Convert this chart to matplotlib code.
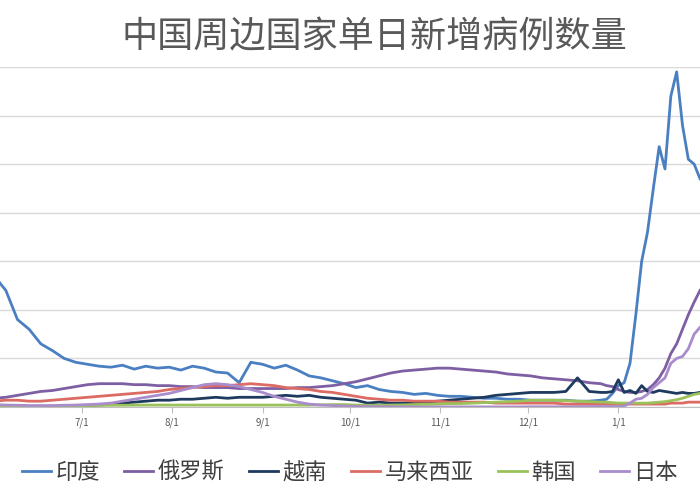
import matplotlib
matplotlib.use("Agg")
import matplotlib.pyplot as plt
import matplotlib.dates as mdates
import pandas as pd

plt.rcParams['font.family'] = ['Noto Sans CJK SC', 'DejaVu Sans']

series_names = ["印度", "俄罗斯", "越南", "马来西亚", "韩国", "日本"]
colors = ["#4A7FC1", "#7E5FA3", "#1F3A5F", "#DB6B63", "#9BC25A", "#A98CCB"]

# values in thousands; early part every 4 days from 2021-06-01 (53 pts), late part every 2 days from 2021-12-28 (17 pts)
india_early = [135, 120, 90, 80, 65, 58, 50, 46, 44, 42,
               41, 43, 39, 42, 40, 41, 38, 42, 40, 36,
               35, 25, 46, 44, 40, 43, 38, 32, 30, 27,
               24, 20, 22, 18, 16, 15, 13, 14, 12, 11,
               11, 10, 9, 9, 8, 8, 7, 7, 7, 7,
               6, 6, 7]
india_late = [8, 14, 22, 25, 45, 95, 150, 180, 225, 268, 245, 320, 345, 290, 255, 250, 235]

russia_early = [9, 10, 12, 14, 16, 17, 19, 21, 23, 24,
                24, 24, 23, 23, 22, 22, 21, 21, 20, 20,
                20, 19, 19, 19, 19, 19, 20, 20, 21, 22,
                24, 26, 29, 32, 35, 37, 38, 39, 40, 40,
                39, 38, 37, 36, 34, 33, 32, 30, 29, 28,
                27, 25, 24]
russia_late = [22, 21, 18, 16, 15, 15, 16, 18, 23, 30, 40, 55, 65, 80, 95, 108, 120]

vietnam_early = [0.2, 0.2, 0.3, 0.4, 0.5, 0.7, 0.9, 1.2, 1.5, 2,
                 3, 4, 5, 6, 7, 7, 8, 8, 9, 10,
                 9, 10, 10, 10, 11, 12, 11, 12, 10, 9,
                 8, 7, 4, 5, 4, 4, 4, 5, 6, 7,
                 8, 9, 10, 12, 13, 14, 15, 15, 15, 16,
                 30, 16, 15]
vietnam_late = [15, 16, 28, 15, 17, 14, 22, 16, 15, 17, 16, 15, 14, 15, 14, 14, 15]

malaysia_early = [6, 7, 7, 6, 6, 7, 8, 9, 10, 11,
                  12, 13, 14, 15, 16, 18, 19, 20, 21, 22,
                  22, 23, 24, 23, 22, 20, 19, 18, 16, 15,
                  13, 11, 9, 8, 7, 7, 6, 6, 6, 5,
                  5, 5, 5, 4, 4, 4, 4, 4, 4, 3,
                  3, 3, 3]
malaysia_late = [3, 3, 3, 3, 3, 3, 3, 3, 3, 3, 3, 4, 4, 4, 5, 5, 5]

korea_early = [0.6, 0.6, 0.6, 0.6, 0.6, 0.6, 0.8, 1.2, 1.5, 1.6,
               1.8, 1.8, 1.9, 2.0, 2.0, 2.0, 2.0, 2.0, 2.0, 2.0,
               2.0, 2.0, 2.0, 2.0, 2.0, 2.0, 2.0, 2.0, 2.2, 2.5,
               2.5, 2.0, 1.8, 1.8, 2.0, 2.2, 2.5, 2.8, 3.0, 3.5,
               3.5, 4.0, 4.5, 5.0, 5.5, 6.0, 7.0, 7.0, 7.0, 6.5,
               6.0, 5.5, 5.0]
korea_late = [5.0, 4.5, 4.0, 4.0, 4.0, 4.0, 4.0, 4.0, 4.5, 5.0, 5.5, 6.5, 7.5, 9.0, 11.0, 13.0, 14.0]

japan_early = [2.5, 2.0, 1.8, 1.5, 1.5, 1.5, 1.8, 2.0, 2.5, 3.0,
               4, 6, 8, 10, 12, 14, 17, 20, 23, 24,
               23, 21, 18, 15, 11, 8, 5, 3, 2, 1.5,
               1, 0.6, 0.4, 0.3, 0.2, 0.2, 0.1, 0.1, 0.1, 0.1,
               0.1, 0.1, 0.1, 0.1, 0.1, 0.1, 0.2, 0.2, 0.2, 0.2,
               0.3, 0.4, 0.5]
japan_late = [0.5, 0.5, 0.5, 1, 4, 8, 9, 13, 20, 25, 30, 45, 50, 52, 60, 75, 82]

early = [india_early, russia_early, vietnam_early, malaysia_early, korea_early, japan_early]
late = [india_late, russia_late, vietnam_late, malaysia_late, korea_late, japan_late]

fig = plt.figure(figsize=(7, 5), dpi=100)
ax = fig.add_axes([0.0, 0.186, 1.0, 0.68])

for name, c, e, l in zip(series_names, colors, early, late):
    d1 = pd.date_range("2021-06-01", periods=len(e), freq="4D")
    d2 = pd.date_range("2021-12-28", periods=len(l), freq="2D")
    dates = list(d1) + list(d2)
    vals = [v * 1000 for v in e + l]
    ax.plot(dates, vals, color=c, lw=2, label=name)

ax.set_xlim(pd.Timestamp("2021-06-03"), pd.Timestamp("2022-01-29"))
ax.set_ylim(0, 350000)
ax.set_yticks(range(0, 350001, 50000))
ax.yaxis.grid(True, color="#D9D9D9", lw=1)
ax.set_axisbelow(True)
ax.tick_params(axis="y", left=False, labelleft=False)
ax.xaxis.set_major_locator(mdates.MonthLocator())
ax.xaxis.set_major_formatter(mdates.DateFormatter("%-m/%-d"))
ax.tick_params(axis="x", colors="#595959", labelsize=7, length=4, color="#BFBFBF")
for s in ["top", "right", "left"]:
    ax.spines[s].set_visible(False)
ax.spines["bottom"].set_color("#BFBFBF")

fig.text(0.535, 0.925, "中国周边国家单日新增病例数量", ha="center", va="center",
         fontsize=26, color="#595959")
fig.legend(loc="center", bbox_to_anchor=(0.5, 0.055), ncol=6, frameon=False,
           fontsize=16, handlelength=1.3, handletextpad=0.2, columnspacing=1.1,
           labelcolor="#404040")

fig.savefig("out.png", dpi=100)
